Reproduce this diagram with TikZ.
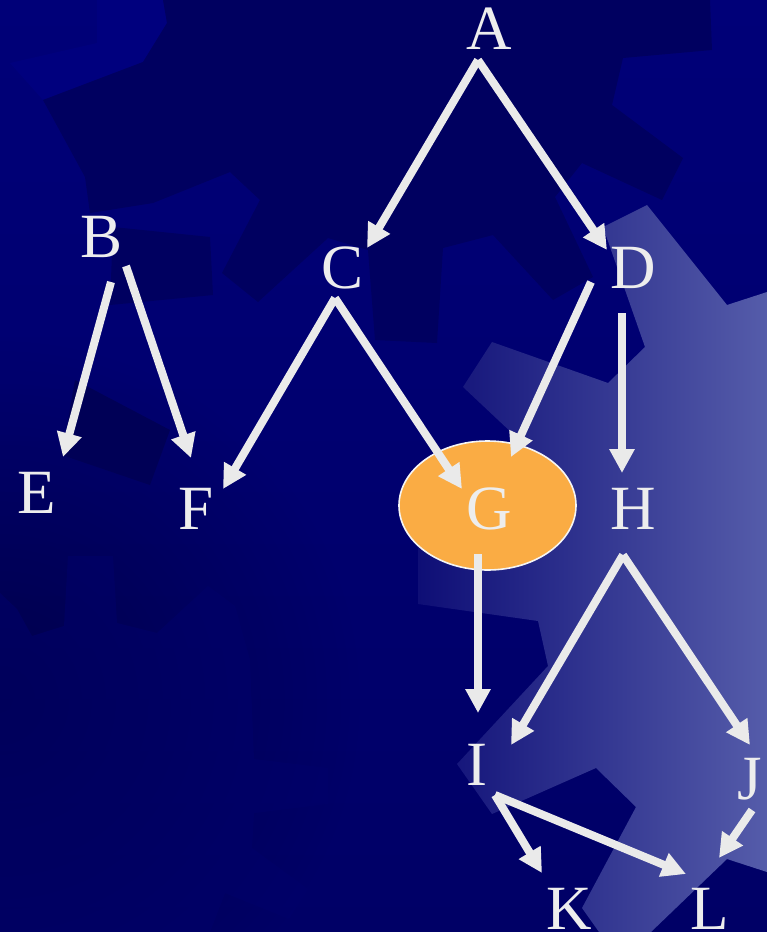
\documentclass[tikz,border=0pt]{standalone}
\usepackage{fontspec}
\setmainfont{Liberation Serif}
\usetikzlibrary{arrows.meta,shapes.geometric,fadings}
\definecolor{bgtop}{HTML}{000078}
\definecolor{bgbot}{HTML}{000066}
\definecolor{gdark}{HTML}{000060}
\definecolor{gmid}{HTML}{00007E}
\definecolor{gbl}{HTML}{00006A}
\definecolor{lgA}{HTML}{0E0E76}
\definecolor{lgB}{HTML}{555CAA}
\definecolor{txt}{HTML}{EDEDED}
\definecolor{arw}{HTML}{EAEAEA}
\definecolor{orng}{HTML}{FAAC44}
\tikzfading[name=softbl, inner color=transparent!0, outer color=transparent!100]
\begin{document}
\begin{tikzpicture}[x=1pt,y=-1pt,
  lbl/.style={text=txt, font=\fontsize{63}{63}\selectfont, anchor=base, inner sep=0pt},
  arr/.style={draw=arw, line width=8pt, -{Triangle[length=24pt,width=24pt]}},
  gshape/.style={ellipse, fill=orng, draw=white!92!gray, line width=1.6pt, minimum width=177pt, minimum height=129pt, inner sep=0pt}]
\useasboundingbox (0,0) rectangle (767,932);
% background
\shade[top color=bgtop, bottom color=bgbot] (0,0) rectangle (767,932);
% soft darkening towards the left / bottom-left
\fill[black, opacity=0.3, path fading=softbl] (-360,340) rectangle (360,1060);
% top-left medium tooth
\fill[gmid] (97,0) -- (97,43) -- (10,63) -- (43,100) -- (143,62) -- (167,23) -- (163,0) -- cycle;
% dark upper gear
\fill[gdark] (43,100) -- (143,62) -- (167,23) -- (163,0) -- (710,0) -- (712,50) -- (623,58) -- (612,105)
  -- (683,158) -- (662,200) -- (582,163) -- (555,197) -- (593,277) -- (553,300) -- (493,235)
  -- (443,248) -- (437,343) -- (375,340) -- (368,250) -- (328,238) -- (258,302) -- (222,273)
  -- (260,200) -- (230,172) -- (153,203) -- (90,213) -- (85,177) -- cycle;
\fill[gdark] (113,227) -- (210,237) -- (213,295) -- (110,305) -- cycle;
\fill[gdark!90!black] (75,380) -- (170,430) -- (150,485) -- (62,455) -- cycle;
% bottom-left gear (faint)
\fill[gbl, opacity=0.55] (0,593) -- (17,609) -- (32,636) -- (64,626) -- (68,556) -- (113,556) -- (117,623)
  -- (157,633) -- (208,586) -- (235,606) -- (250,660) -- (254,759) -- (328,768) -- (328,804)
  -- (254,813) -- (252,848) -- (308,889) -- (289,919) -- (225,893) -- (210,932) -- (0,932) -- cycle;
% light gear on the right
\shade[left color=lgA, right color=lgB] (647,205) -- (603,227) -- (645,347) -- (608,383) -- (492,342)
  -- (463,387) -- (530,450) -- (418,540) -- (418,604) -- (538,621) -- (548,666) -- (457,764)
  -- (492,814) -- (596,768) -- (636,807) -- (582,908) -- (599,932) -- (651,932) -- (727,859)
  -- (767,872) -- (767,292) -- (727,305) -- cycle;
% G ellipse
\node[gshape] (Gshape) at (487.5,505.5) {};
% labels
\node[lbl] (A) at (489,49) {A};
\node[lbl] (B) at (102,257) {B};
\node[lbl] (C) at (343,288) {C};
\node[lbl] (D) at (633,288) {D};
\node[lbl] (E) at (37,513) {E};
\node[lbl] (F) at (196,529) {F};
\node[lbl] (G) at (489,529) {G};
\node[lbl] (H) at (633,529) {H};
\node[lbl] (I) at (477,785) {I};
\node[lbl] (J) at (750,799) {J};
\node[lbl] (K) at (569,929) {K};
\node[lbl] (L) at (710,929) {L};
% connector end points
\coordinate (aS) at (478,60);
\coordinate (cT) at (367,248);
\coordinate (dT) at (607,250);
\coordinate (bS1) at (111,282);
\coordinate (eT) at (63,457);
\coordinate (bS2) at (126,266);
\coordinate (fT1) at (191,458);
\coordinate (cS) at (335,298);
\coordinate (fT2) at (223,489);
\coordinate (gT1) at (462,489);
\coordinate (dS1) at (591,282);
\coordinate (gT2) at (511,457);
\coordinate (dS2) at (622,313);
\coordinate (hT) at (622,473);
\coordinate (gS) at (478,554);
\coordinate (iT1) at (478,713);
\coordinate (hS) at (623,555);
\coordinate (iT2) at (511,745);
\coordinate (jT) at (750,745);
\coordinate (iS) at (495,795);
\coordinate (kT) at (542,873);
\coordinate (lT1) at (686,874);
\coordinate (jS) at (752,810);
\coordinate (lT2) at (719,858);
% connectors
\draw[arr] (aS) -- (cT);
\draw[arr] (aS) -- (dT);
\draw[arr] (bS1) -- (eT);
\draw[arr] (bS2) -- (fT1);
\draw[arr] (cS) -- (fT2);
\draw[arr] (cS) -- (gT1);
\draw[arr] (dS1) -- (gT2);
\draw[arr] (dS2) -- (hT);
\draw[arr] (gS) -- (iT1);
\draw[arr] (hS) -- (iT2);
\draw[arr] (hS) -- (jT);
\draw[arr] (iS) -- (kT);
\draw[arr] (iS) -- (lT1);
\draw[arr] (jS) -- (lT2);
\end{tikzpicture}
\end{document}
